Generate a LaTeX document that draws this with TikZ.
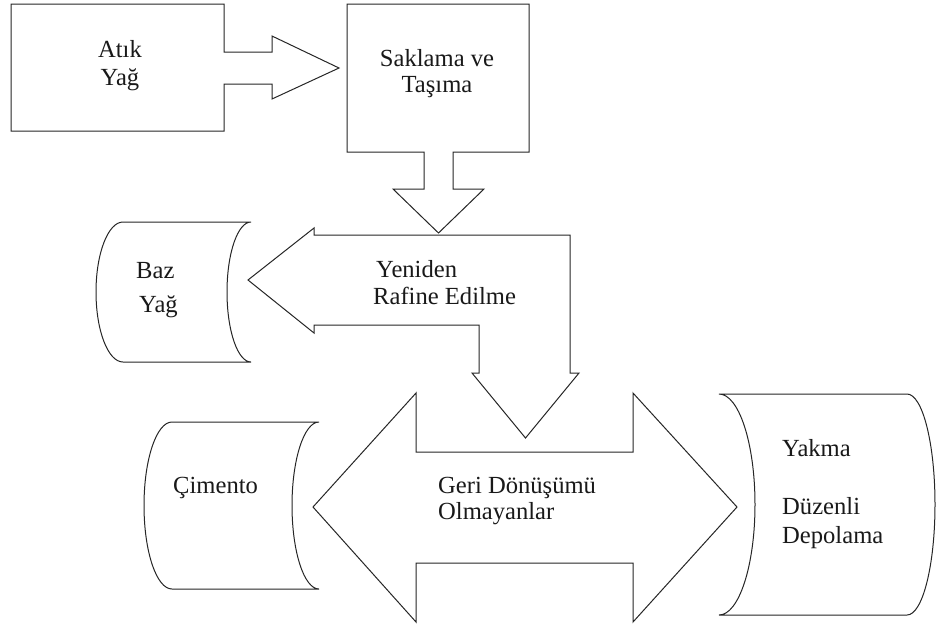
\documentclass[tikz,border=0pt]{standalone}
\usepackage{fontspec}
\setmainfont{Liberation Serif}
\begin{document}
\begin{tikzpicture}[x=1pt,y=-1pt,
  shp/.style={draw=black!85, line width=1pt, fill=white, line join=miter},
  lbl/.style={inner sep=0pt, font=\fontsize{24.6}{28}\selectfont, text=black!90},
  lblc/.style={lbl, anchor=base},
  lbll/.style={lbl, anchor=base west}]
\useasboundingbox (0,0) rectangle (936,630);

% Atik Yag box with right block arrow
\draw[shp] (11,4) -- (224,4) -- (224,52) -- (272,52) -- (272,36) -- (339,68) -- (272,99) -- (272,84) -- (224,84) -- (224,131) -- (11,131) -- cycle;

% Yeniden Rafine Edilme bent arrow
\draw[shp] (570,235) -- (314,235) -- (314,228) -- (248,280) -- (314,333) -- (314,325) -- (479,325) -- (479,373) -- (472,373) -- (525.5,438) -- (579,373) -- (570,373) -- cycle;

% Saklama ve Tasima box with down block arrow
\draw[shp] (347,4) -- (529,4) -- (529,152) -- (453,152) -- (453,189) -- (484,189) -- (438.5,233) -- (393,189) -- (424,189) -- (424,152) -- (347,152) -- cycle;

% Geri Donusumu Olmayanlar double arrow
\draw[shp] (313,507) -- (416,393) -- (416,452) -- (633,452) -- (633,393) -- (737,507) -- (633,622) -- (633,563) -- (416,563) -- (416,622) -- cycle;

% Baz Yag stored-data shape
\draw[shp] (123,222) -- (251,222) .. controls (237.7,222) and (227,253.3) .. (227,292) .. controls (227,330.7) and (237.7,362) .. (251,362) -- (123,362) .. controls (108.1,362) and (96,330.7) .. (96,292) .. controls (96,253.3) and (108.1,222) .. (123,222) -- cycle;

% Cimento stored-data shape
\draw[shp] (172,422) -- (319,422) .. controls (304.1,422) and (292,459.4) .. (292,505.5) .. controls (292,551.6) and (304.1,589) .. (319,589) -- (172,589) .. controls (156.5,589) and (144,551.6) .. (144,505.5) .. controls (144,459.4) and (156.5,422) .. (172,422) -- cycle;

% Yakma / Duzenli Depolama mirrored stored-data shape
\draw[shp] (719,394) -- (907,394) .. controls (922.5,394) and (935,443.5) .. (935,504.5) .. controls (935,565.5) and (922.5,615) .. (907,615) -- (719,615) .. controls (738.9,615) and (755,565.5) .. (755,504.5) .. controls (755,443.5) and (738.9,394) .. (719,394) -- cycle;

% Labels
\node[lblc] (atik1) at (120,57) {Atık};
\node[lblc] (atik2) at (120,85) {Yağ};
\node[lblc] (sak1) at (437,66) {Saklama ve};
\node[lblc] (sak2) at (437,92) {Taşıma};
\node[lbll] (yen1) at (376,277) {Yeniden};
\node[lbll] (yen2) at (373,304) {Rafine Edilme};
\node[lbll] (baz1) at (136,278) {Baz};
\node[lbll] (baz2) at (139,312) {Yağ};
\node[lbll] (cim) at (173,493) {Çimento};
\node[lbll] (geri1) at (438,493) {Geri Dönüşümü};
\node[lbll] (geri2) at (438,519) {Olmayanlar};
\node[lbll] (yak1) at (782,456) {Yakma};
\node[lbll] (yak2) at (782,514) {Düzenli};
\node[lbll] (yak3) at (782,543) {Depolama};
\end{tikzpicture}
\end{document}
